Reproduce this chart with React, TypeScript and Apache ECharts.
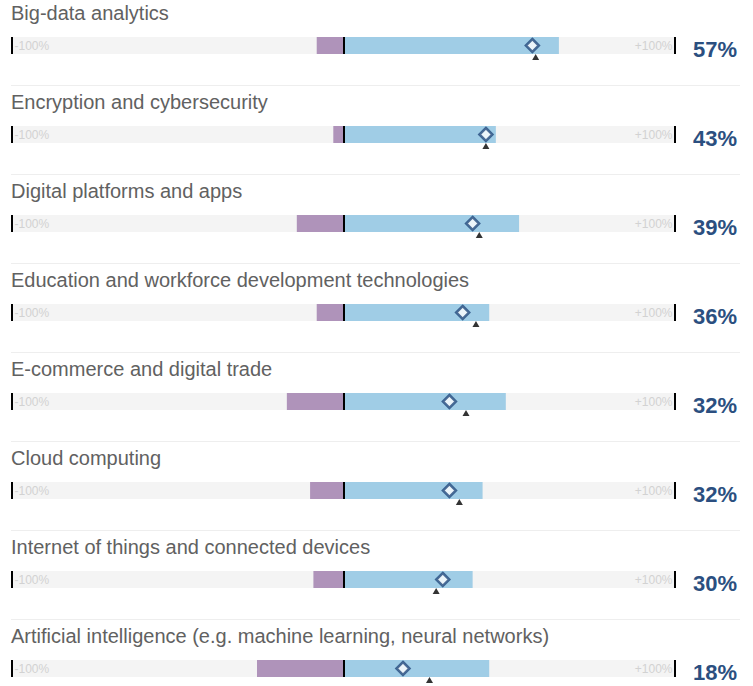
import React, { useEffect, useRef } from "react";
import * as echarts from "echarts";

const categories = [
  "Big-data analytics",
  "Encryption and cybersecurity",
  "Digital platforms and apps",
  "Education and workforce development technologies",
  "E-commerce and digital trade",
  "Cloud computing",
  "Internet of things and connected devices",
  "Artificial intelligence (e.g. machine learning, neural networks)",
];
const negativeShare = [-8, -3, -14, -8, -17, -10, -9, -26];
const positiveShare = [65, 46, 53, 44, 49, 42, 39, 44];
const netBalance = [57, 43, 39, 36, 32, 32, 30, 18];
const previousNet = [58, 43, 41, 40, 37, 35, 28, 26];
const scaleTickLabels = ["-100%", "+100%"];

const W = 753;
const H = 686;
const ROW_H = 89;
const BAR_TOP = 37;
const BAR_H = 17;
const PLOT_L = 11.5;
const PLOT_R = 675;

const FONT = "'Helvetica Neue', 'Liberation Sans', Arial, sans-serif";
const PURPLE = "#af93ba";
const BLUE = "#a0cde6";
const BG = "#f4f4f4";
const NAVY = "#2b4f80";

export default function App() {
  const ref = useRef<HTMLDivElement>(null);
  useEffect(() => {
    if (!ref.current) return;
    const chart = echarts.init(ref.current, undefined, { renderer: "svg" });
    const grid: any[] = [];
    const xAxis: any[] = [];
    const yAxis: any[] = [];
    const series: any[] = [];
    const title: any[] = [];
    const graphic: any[] = [];

    categories.forEach((cat, i) => {
      const top = BAR_TOP + i * ROW_H;
      grid.push({ left: PLOT_L, width: PLOT_R - PLOT_L, top, height: BAR_H, containLabel: false });
      xAxis.push({ gridIndex: i, type: "value", min: -100, max: 100, show: false });
      yAxis.push({
        gridIndex: i,
        type: "category",
        data: [cat],
        show: false,
      });
      title.push({
        text: cat,
        left: 11,
        top: i * ROW_H + 3,
        padding: 0,
        textStyle: { fontSize: 20, fontWeight: 300, color: "#616161", fontFamily: FONT },
      });
      series.push({
        type: "bar",
        xAxisIndex: i,
        yAxisIndex: i,
        stack: "s" + i,
        barWidth: BAR_H,
        data: [negativeShare[i]],
        itemStyle: { color: PURPLE },
        showBackground: true,
        backgroundStyle: { color: BG },
        silent: true,
      });
      series.push({
        type: "bar",
        xAxisIndex: i,
        yAxisIndex: i,
        stack: "s" + i,
        barWidth: BAR_H,
        data: [positiveShare[i]],
        itemStyle: { color: BLUE },
        silent: true,
        markLine: {
          silent: true,
          symbol: "none",
          label: { show: false },
          lineStyle: { color: "#000", width: 2, type: "solid" },
          data: [{ xAxis: -100 }, { xAxis: 0 }, { xAxis: 100 }],
          z: 5,
        },
      });
      series.push({
        type: "scatter",
        xAxisIndex: i,
        yAxisIndex: i,
        data: [[previousNet[i], cat]],
        symbol: "triangle",
        symbolSize: [7, 6],
        symbolOffset: [0, 11.5],
        itemStyle: { color: "#000" },
        z: 6,
        silent: true,
      });
      series.push({
        type: "scatter",
        xAxisIndex: i,
        yAxisIndex: i,
        data: [[netBalance[i], cat]],
        symbol: "diamond",
        symbolSize: 13,
        itemStyle: { color: "#fff", borderColor: "#234a7d", borderWidth: 2.5 },
        z: 7,
        silent: true,
      });
      graphic.push({
        type: "text",
        x: PLOT_R + 18,
        y: top + BAR_H / 2 + 3.5,
        z: 50,
        style: {
          text: `${netBalance[i]}%`,
          fontSize: 22,
          fontWeight: "bold",
          fill: NAVY,
          fontFamily: FONT,
          verticalAlign: "middle",
          align: "left",
        },
      });
      graphic.push({
        type: "text",
        x: PLOT_L + 3,
        y: top + BAR_H / 2,
        z: 50,
        style: {
          text: scaleTickLabels[0],
          fontSize: 12,
          fill: "#d2d2d2",
          fontFamily: FONT,
          verticalAlign: "middle",
          align: "left",
        },
      });
      graphic.push({
        type: "text",
        x: PLOT_R - 2.5,
        y: top + BAR_H / 2,
        z: 50,
        style: {
          text: scaleTickLabels[1],
          fontSize: 12,
          fill: "#d2d2d2",
          fontFamily: FONT,
          verticalAlign: "middle",
          align: "right",
        },
      });
      if (i < categories.length - 1) {
        graphic.push({
          type: "line",
          z: 1,
          shape: { x1: 11, y1: (i + 1) * ROW_H - 3.5, x2: 740, y2: (i + 1) * ROW_H - 3.5 },
          style: { stroke: "#eeeeee", lineWidth: 1 },
        });
      }
    });

    chart.setOption({
      animation: false,
      backgroundColor: "#fff",
      title,
      grid,
      xAxis,
      yAxis,
      series,
      graphic,
    });
    return () => chart.dispose();
  }, []);
  return (
    <div
      ref={ref}
      style={{ position: "absolute", left: 0, top: 0, width: W, height: H }}
    />
  );
}
